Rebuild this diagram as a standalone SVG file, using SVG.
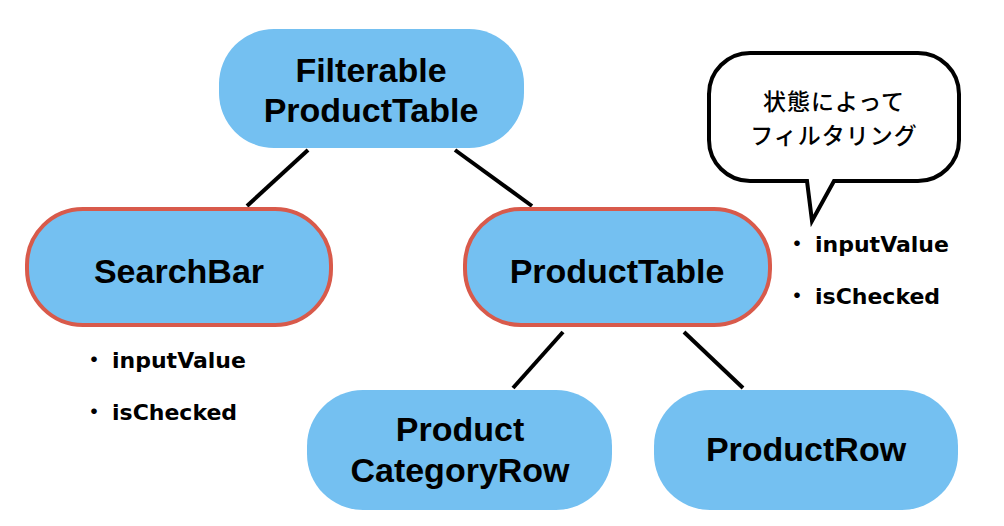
<svg xmlns="http://www.w3.org/2000/svg" width="1004" height="526" viewBox="0 0 1004 526">
<style>
.node{fill:#74C0F1;}
.sel{stroke:#D85A4B;stroke-width:4;}
.lbl{font-family:"Liberation Sans","Noto Sans CJK JP",sans-serif;font-weight:bold;font-size:34px;fill:#000;text-anchor:middle;}
.bul{font-family:"DejaVu Sans","Noto Sans CJK JP",sans-serif;font-weight:bold;font-size:22px;fill:#000;}
.dot{font-family:"Noto Sans CJK JP",sans-serif;font-weight:bold;font-size:22px;fill:#000;text-anchor:middle;}
.jp{font-family:"Noto Sans CJK JP",sans-serif;font-weight:500;font-size:23px;letter-spacing:1px;fill:#000;text-anchor:middle;}
.conn line{stroke:#000;stroke-width:4;}
</style>
<rect width="1004" height="526" fill="#fff"/>
<g id="connectors" class="conn">
<line x1="308" y1="150" x2="247" y2="206"/>
<line x1="455" y1="150" x2="532" y2="206"/>
<line x1="563" y1="332" x2="513" y2="388"/>
<line x1="684" y1="332" x2="743" y2="388"/>
</g>
<g id="filterable">
<rect class="node" x="219" y="29" width="305" height="119" rx="55"/>
<text class="lbl" x="371" y="82">Filterable</text>
<text class="lbl" x="371" y="122">ProductTable</text>
</g>
<g id="searchbar">
<rect class="node sel" x="27" y="209" width="304" height="116" rx="56"/>
<text class="lbl" x="179" y="283">SearchBar</text>
</g>
<g id="producttable">
<rect class="node sel" x="465" y="209" width="305" height="116" rx="56"/>
<text class="lbl" x="617" y="283">ProductTable</text>
</g>
<g id="productcategoryrow">
<rect class="node" x="307" y="390" width="305" height="120" rx="56"/>
<text class="lbl" x="460" y="441">Product</text>
<text class="lbl" x="460" y="482">CategoryRow</text>
</g>
<g id="productrow">
<rect class="node" x="654" y="390" width="304" height="120" rx="56"/>
<text class="lbl" x="806" y="461">ProductRow</text>
</g>
<g id="bubble">
<path d="M750,53 H918 A41,41 0 0 1 959,94 V140 A41,41 0 0 1 918,181 H834 L812,221 L807,181 H750 A41,41 0 0 1 709,140 V94 A41,41 0 0 1 750,53 Z" fill="#fff" stroke="#000" stroke-width="4" stroke-linejoin="miter"/>
<text class="jp" x="834" y="110">状態によって</text>
<text class="jp" x="834" y="144">フィルタリング</text>
</g>
<g id="props-searchbar">
<text class="dot" x="94" y="367">・</text>
<text class="bul" x="112" y="368">inputValue</text>
<text class="dot" x="94" y="419">・</text>
<text class="bul" x="112" y="420">isChecked</text>
</g>
<g id="props-filterable">
<text class="dot" x="797" y="251">・</text>
<text class="bul" x="815" y="252">inputValue</text>
<text class="dot" x="797" y="303">・</text>
<text class="bul" x="815" y="304">isChecked</text>
</g>
</svg>
